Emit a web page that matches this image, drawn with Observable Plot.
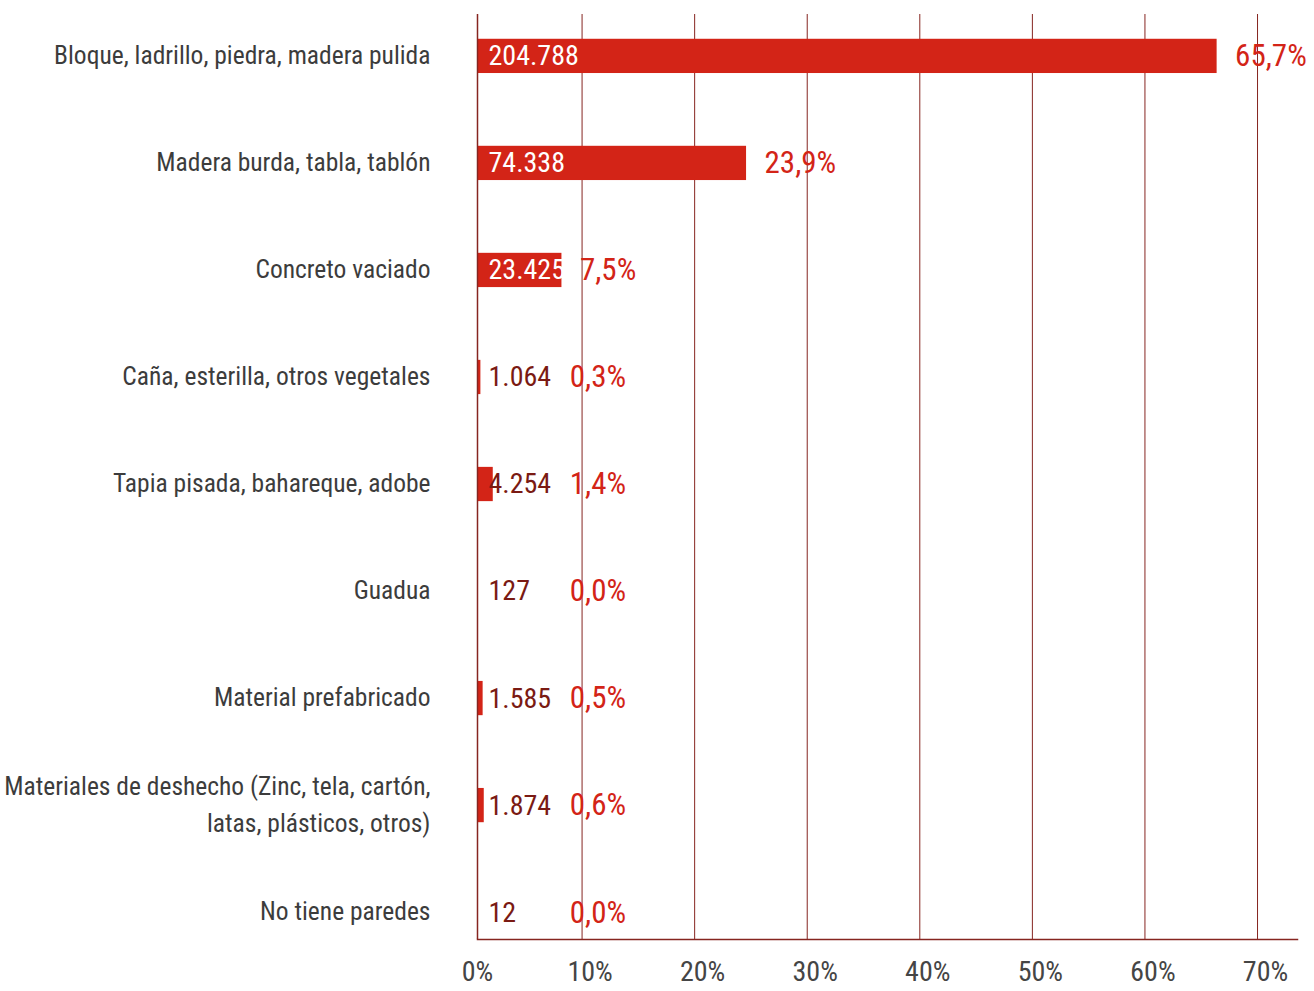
<!DOCTYPE html>
<html>
<head>
<meta charset="utf-8">
<script src="https://cdn.jsdelivr.net/npm/d3@7"></script>
<script src="https://cdn.jsdelivr.net/npm/@observablehq/plot@0.6"></script>
<style>
  html, body { margin: 0; padding: 0; background: #fff; }
  #chart svg { display: block; }
</style>
</head>
<body>
<div id="chart"></div>
<script>
const categories = [
  "Bloque, ladrillo, piedra, madera pulida",
  "Madera burda, tabla, tablón",
  "Concreto vaciado",
  "Caña, esterilla, otros vegetales",
  "Tapia pisada, bahareque, adobe",
  "Guadua",
  "Material prefabricado",
  "Materiales de deshecho (Zinc, tela, cartón,\nlatas, plásticos, otros)",
  "No tiene paredes"
];
const counts = [204788, 74338, 23425, 1064, 4254, 127, 1585, 1874, 12];
const percents = [65.7, 23.9, 7.5, 0.3, 1.4, 0.0, 0.5, 0.6, 0.0];
const xTicks = [0, 10, 20, 30, 40, 50, 60, 70];

const es = d3.formatLocale({decimal: ",", thousands: ".", grouping: [3], currency: ["", "€"]});
const fmtInt = es.format(",d");
const fmtPct = es.format(".1f");

const data = categories.map((c, i) => ({cat: c, n: counts[i], p: percents[i]}));
const big = d => d.p > 5;

const FONT = "'Roboto Condensed', 'Liberation Sans Narrow', 'Arial Narrow', 'DejaVu Sans Condensed', sans-serif";
const BAR = "#d32417";
const DARK = "#7a1a13";
const GRID = "#862520";

const chart = Plot.plot({
  width: 1314,
  height: 991,
  marginLeft: 477,
  marginRight: 17,
  marginTop: 14,
  marginBottom: 52,
  style: {fontFamily: FONT, background: "#fff"},
  x: {domain: [0, 72.84], axis: null, label: null},
  y: {domain: categories, range: [27, 941], round: false, paddingInner: 0.68, paddingOuter: 0.11, axis: null, label: null},
  marks: [
    Plot.ruleX(xTicks.filter(t => t > 0), {stroke: GRID, strokeWidth: 1, dx: -8}),
    Plot.barX(data, {y: "cat", x: "p", fill: BAR}),
    Plot.ruleX([0], {stroke: GRID, strokeWidth: 1.5}),
    Plot.frame({anchor: "bottom", stroke: GRID, strokeWidth: 1.5}),
    Plot.text(data, {
      y: "cat", x: 0, text: d => fmtInt(d.n), dx: 11, textAnchor: "start",
      fill: d => big(d) ? "#ffffff" : DARK, fontSize: 28
    }),
    Plot.text(data, {
      y: "cat", x: d => Math.max(d.p, 6.6), text: d => fmtPct(d.p) + "%", dx: 18, textAnchor: "start",
      fill: BAR, fontSize: 31
    }),
    Plot.axisY({
      tickSize: 0, tickPadding: 47, fontSize: 25.5, fill: "#3c3c3c", lineHeight: 1.45,
      textAnchor: "end", label: null, dy: -4
    }),
    Plot.axisX(xTicks, {
      tickSize: 0, tickPadding: 22, fontSize: 28, fill: "#454545", label: null,
      tickFormat: d => d + "%"
    })
  ]
});
document.getElementById("chart").append(chart);
</script>
</body>
</html>
